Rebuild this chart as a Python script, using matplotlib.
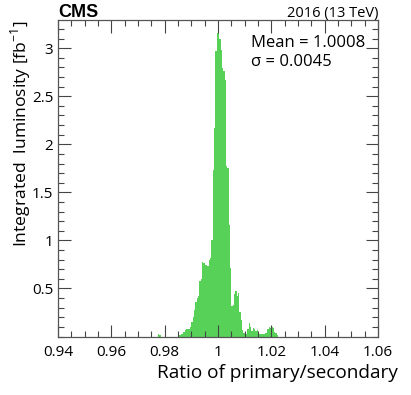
import numpy as np
import matplotlib
matplotlib.use("Agg")
import matplotlib.pyplot as plt
from matplotlib.ticker import MultipleLocator

plt.rcParams['font.family'] = ['Open Sans', 'DejaVu Sans']

# histogram: bins of width 0.0005 starting at 0.94, values in fb^-1
bin_lo = 0.94
bin_w = 0.0005
first_bin = 75
counts = [
    0.03, 0.02, 0, 0, 0, 0, 0, 0, 0, 0, 0, 0, 0, 0, 0, 0,          # 75-90
    0.02, 0.03, 0.03, 0.05, 0.065, 0.08, 0.08, 0.08, 0.10,           # 91-99
    0.15, 0.20, 0.28, 0.36, 0.40, 0.42, 0.58, 0.60, 0.78, 0.76,      # 100-109
    0.74, 0.74, 0.73, 0.80, 0.82, 1.00, 1.73, 2.17, 2.97, 3.16,      # 110-119
    3.16, 3.10, 2.98, 2.79, 2.76, 2.67, 1.77, 1.75, 1.16, 0.71,      # 120-129
    0.32, 0.33, 0.44, 0.47, 0.42, 0.45, 0.25, 0.17, 0.07, 0.04,      # 130-139
    0.03, 0.03, 0.08, 0.14, 0.10, 0.06, 0.09, 0.08, 0.06, 0.07,      # 140-149
    0.04, 0.03, 0.03, 0.03, 0.03, 0.04, 0.04, 0.08, 0.10, 0.09,      # 150-159
    0.10, 0.09, 0.05, 0.04, 0.02,                                    # 160-164
]
mean_txt = "Mean = 1.0008"
sigma_txt = "σ = 0.0045"

edges = bin_lo + bin_w * np.arange(first_bin, first_bin + len(counts) + 1)
centers = 0.5 * (edges[:-1] + edges[1:])

fig = plt.figure(figsize=(4.11, 3.95), dpi=100)
ax = fig.add_axes([58 / 411, 1 - 336.5 / 395, 320 / 411, 316.2 / 395])

ax.hist(centers, bins=edges, weights=counts, color='#58d158', histtype='stepfilled', lw=0)

ax.set_xlim(0.94, 1.06)
ax.set_ylim(0, 3.29)
ax.xaxis.set_minor_locator(MultipleLocator(0.005))
ax.yaxis.set_minor_locator(MultipleLocator(0.1))
ax.set_xticks(np.arange(0.94, 1.0601, 0.02))
ax.set_xticklabels(['0.94', '0.96', '0.98', '1', '1.02', '1.04', '1.06'])
ax.set_yticks([0.5, 1, 1.5, 2, 2.5, 3])
ax.set_yticklabels(['0.5', '1', '1.5', '2', '2.5', '3'])
ax.tick_params(which='both', direction='in', top=True, right=True, labelsize=11, color='#444444')
ax.tick_params(which='major', length=9, width=0.8)
ax.tick_params(which='minor', length=4.5, width=0.8)
ax.tick_params(axis='x', pad=6)
for s in ax.spines.values():
    s.set_color('#555555')
    s.set_linewidth(0.9)

ax.set_xlabel('Ratio of primary/secondary', fontsize=13.7, ha='right')
ax.xaxis.set_label_coords(1.0625, -0.087)
ax.set_ylabel('Integrated  luminosity [fb$^{\\mathregular{-1}}$]', fontsize=12.6, loc='top', labelpad=-1)

ax.text(0.602, 0.955, mean_txt, transform=ax.transAxes, fontsize=12, va='top')
ax.text(0.602, 0.895, sigma_txt, transform=ax.transAxes, fontsize=12, va='top')

fig.text(58 / 411, 1 - 17 / 395, 'CMS', family='Liberation Sans', weight='bold', fontsize=13)
fig.text(378 / 411, 1 - 17 / 395, '2016 (13 TeV)', fontsize=10.5, ha='right')

fig.savefig('out.png', dpi=100)
